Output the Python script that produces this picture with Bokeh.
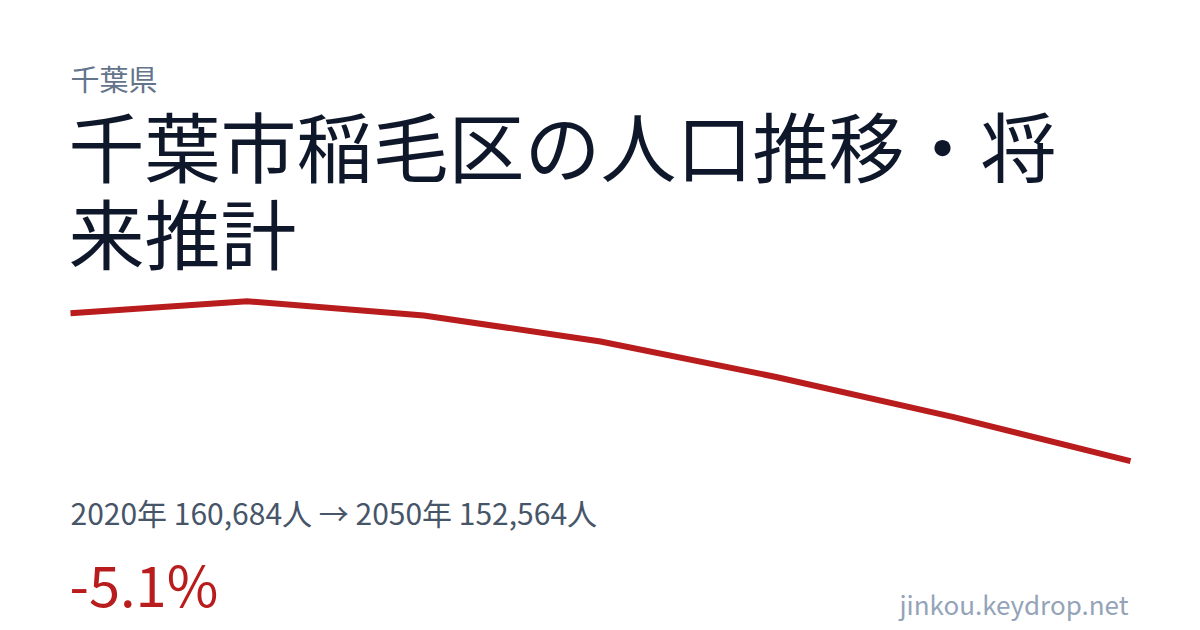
from bokeh.plotting import figure
from bokeh.models import Label, Range1d
from bokeh.embed import file_html
from bokeh.resources import INLINE

# Data
years = [2020, 2025, 2030, 2035, 2040, 2045, 2050]
population = [160684, 161340, 160560, 159130, 157170, 154980, 152564]

prefecture = "千葉県"
title_line1 = "千葉市稲毛区の人口推移・将"
title_line2 = "来推計"
summary = "2020年 160,684人 → 2050年 152,564人"
change = "-5.1%"
site = "jinkou.keydrop.net"

W, H = 1200, 630
FONT = "Noto Sans CJK JP"

# scales: 2020 -> x 70, 2050 -> x 1130 ; max -> y 300.7, min -> y 460.7 (page pixels)
px_per_year = (1130 - 70) / (years[-1] - years[0])
x0 = years[0] - 70 / px_per_year
x1 = x0 + W / px_per_year
vmax, vmin = max(population), min(population)
per_px = (vmax - vmin) / (460.7 - 300.7)
ytop = vmax + 300.7 * per_px
ybot = ytop - H * per_px

p = figure(width=W, height=H, output_backend="svg", toolbar_location=None,
           x_range=Range1d(x0, x1), y_range=Range1d(ybot, ytop),
           min_border=0, outline_line_color=None)
p.axis.visible = False
p.grid.visible = False
p.background_fill_color = "white"
p.border_fill_color = "white"

p.line(years, population, line_color="#b91c1c", line_width=6, line_join="miter")

def add_label(text, page_x, page_baseline, size, color, align="left"):
    p.add_layout(Label(x=page_x, y=H - (page_baseline - 0.5 * size), x_units="screen", y_units="screen",
                       text=text, text_font=FONT, text_font_size=f"{size}px",
                       text_color=color, text_baseline="alphabetic", text_align=align))

add_label(prefecture, 70, 92, 29, "#64748b")
add_label(title_line1, 68, 181, 76, "#0f172a")
add_label(title_line2, 68, 268, 76, "#0f172a")
add_label(summary, 70, 526, 30, "#475569")
add_label(change, 69, 610, 56, "#b91c1c")
add_label(site, 1128, 616, 26, "#94a3b8", align="right")

open("out.html", "w").write(file_html(p, INLINE))
